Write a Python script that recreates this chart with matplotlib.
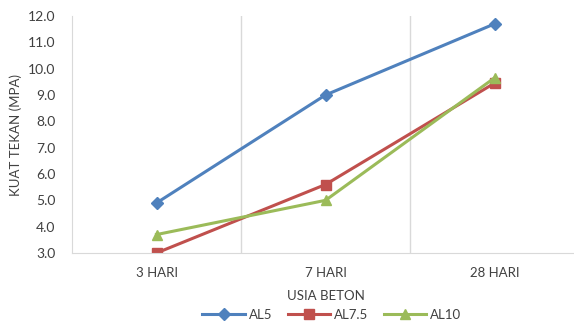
import matplotlib.pyplot as plt

plt.rcParams['font.family'] = ['Lato', 'DejaVu Sans']

umur = ["3 HARI", "7 HARI", "28 HARI"]
al5 = [4.9, 9.0, 11.7]
al75 = [3.0, 5.6, 9.45]
al10 = [3.7, 5.0, 9.65]
yticks = [3.0, 4.0, 5.0, 6.0, 7.0, 8.0, 9.0, 10.0, 11.0, 12.0]

W, H = 574, 324
fig = plt.figure(figsize=(W / 100, H / 100), dpi=100)
# plot area from x=72 to 579 px (right edge runs past the canvas), y=16 to 253 px
ax = fig.add_axes([72 / W, 1 - 253 / H, 507 / W, 237 / H])

x = range(len(umur))
ax.plot(x, al5, color="#4F81BD", lw=2.2, marker="D", ms=6, label="AL5")
ax.plot(x, al75, color="#C0504D", lw=2.2, marker="s", ms=7, label="AL7.5")
ax.plot(x, al10, color="#9BBB59", lw=2.2, marker="^", ms=7, label="AL10")

ax.set_xlim(-0.5, 2.5)
ax.set_ylim(3.0, 12.0)
ax.set_yticks(yticks)
ax.set_yticklabels([f"{v:.1f}" for v in yticks])
ax.set_xticks(list(x))
ax.set_xticklabels(umur)
ax.set_xticks([0.5, 1.5], minor=True)
ax.grid(True, which="minor", axis="x", color="#D9D9D9", lw=1)
ax.tick_params(which="both", length=0)
ax.tick_params(axis="y", labelsize=10, colors="#404040", pad=12)
ax.tick_params(axis="x", labelsize=9.5, colors="#404040", pad=10)

for side in ["top", "right"]:
    ax.spines[side].set_visible(False)
ax.spines["left"].set_color("#D9D9D9")
ax.spines["bottom"].set_color("#D9D9D9")

ax.set_ylabel("KUAT TEKAN (MPA)", fontsize=9.5, color="#404040", labelpad=4)
ax.set_xlabel("USIA BETON", fontsize=9.5, color="#404040", labelpad=8)

fig.legend(loc="center", bbox_to_anchor=(332 / W, 1 - 315 / H), ncol=3,
           frameon=False, fontsize=9.5, handlelength=3.2, columnspacing=1.2,
           handletextpad=0.3, labelcolor="#404040")

fig.savefig("out.png", dpi=100)
